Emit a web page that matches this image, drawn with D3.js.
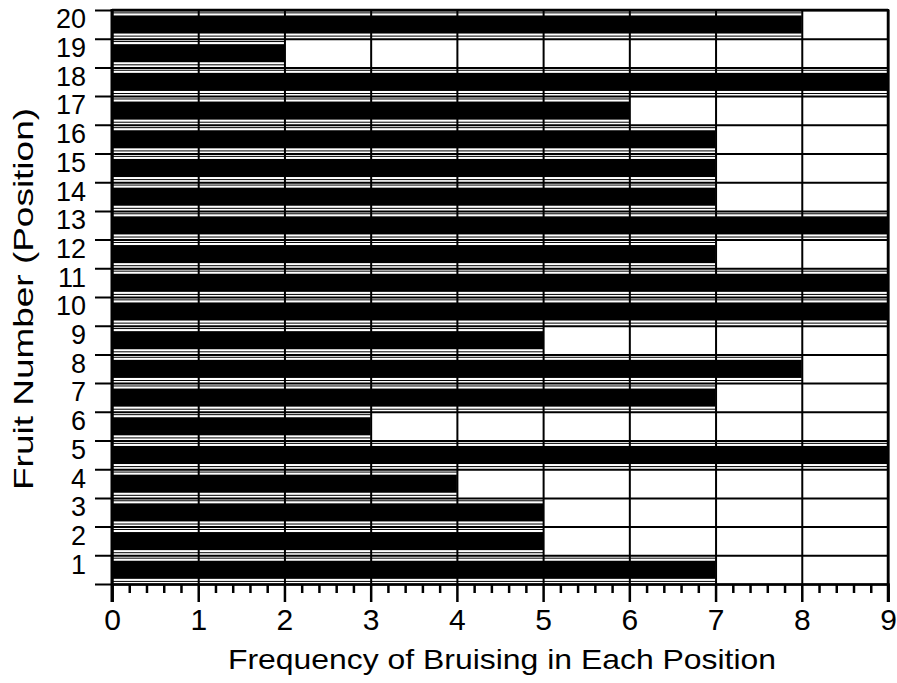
<!DOCTYPE html>
<html>
<head>
<meta charset="utf-8">
<script src="https://cdn.jsdelivr.net/npm/d3@7"></script>
<style>
  html, body { margin: 0; padding: 0; background: #fff; }
  svg { display: block; }
  text { font-family: "Liberation Sans", Arial, Helvetica, sans-serif; fill: #000; }
</style>
</head>
<body>
<svg id="chart" width="897" height="683"></svg>
<script>
// Data
const fruitNumbers = [1, 2, 3, 4, 5, 6, 7, 8, 9, 10, 11, 12, 13, 14, 15, 16, 17, 18, 19, 20];
const bruisingFrequency = [7, 5, 5, 4, 9, 3, 7, 8, 5, 9, 9, 7, 9, 7, 7, 7, 6, 9, 2, 8];
const xTickValues = [0, 1, 2, 3, 4, 5, 6, 7, 8, 9];
const xAxisTitle = "Frequency of Bruising in Each Position";
const yAxisTitle = "Fruit Number (Position)";

(function () {
const svg = d3.select("#chart");
const pL = 112, pR = 888, pT = 10, pB = 584;

const x = d3.scaleLinear().domain([0, 9]).range([pL, pR]);
const y = d3.scaleBand().domain(fruitNumbers.slice().reverse()).range([pT, pB]).paddingInner(0).paddingOuter(0);
const yEdge = d3.scaleLinear().domain([0, 20]).range([pB, pT]);
const bw = y.bandwidth();

// bars: thin outline lines + black fill
const barG = svg.append("g");
const rows = fruitNumbers.map((f, i) => ({ f, v: bruisingFrequency[i] }));
barG.selectAll("rect.fill").data(rows).join("rect")
  .attr("x", x(0))
  .attr("y", d => y(d.f) + bw * 0.19)
  .attr("width", d => x(d.v) - x(0))
  .attr("height", bw * 0.63)
  .attr("fill", "#000");
barG.selectAll("line.top").data(rows).join("line")
  .attr("x1", x(0)).attr("x2", d => x(d.v))
  .attr("y1", d => y(d.f) + bw * 0.1).attr("y2", d => y(d.f) + bw * 0.1)
  .attr("stroke", "#000").attr("stroke-width", 1);
barG.selectAll("line.bot").data(rows).join("line")
  .attr("x1", x(0)).attr("x2", d => x(d.v))
  .attr("y1", d => y(d.f) + bw * 0.91).attr("y2", d => y(d.f) + bw * 0.91)
  .attr("stroke", "#000").attr("stroke-width", 1);

// horizontal gridlines + left ticks
svg.append("g")
  .attr("transform", `translate(${pL},0)`)
  .call(d3.axisLeft(yEdge).tickValues(d3.range(0, 21)).tickSize(0).tickFormat(""))
  .call(g => g.select(".domain").remove())
  .call(g => g.selectAll(".tick line")
    .attr("x1", -17).attr("x2", pR - pL)
    .attr("stroke", "#000").attr("stroke-width", 2));

// vertical gridlines
svg.append("g")
  .attr("transform", `translate(0,${pB})`)
  .call(d3.axisBottom(x).tickValues(xTickValues).tickSize(-(pB - pT)).tickFormat(""))
  .call(g => g.select(".domain").remove())
  .call(g => g.selectAll(".tick line").attr("stroke", "#000").attr("stroke-width", 2));

// frame
svg.append("line").attr("x1", pL).attr("x2", pL).attr("y1", pT - 1).attr("y2", pB + 18)
  .attr("stroke", "#000").attr("stroke-width", 3);
svg.append("line").attr("x1", pR).attr("x2", pR).attr("y1", pT - 1).attr("y2", pB + 18)
  .attr("stroke", "#000").attr("stroke-width", 2.5);
svg.append("line").attr("x1", pL).attr("x2", pR).attr("y1", pT).attr("y2", pT)
  .attr("stroke", "#000").attr("stroke-width", 2.5);

// x axis major
const xAxisG = svg.append("g")
  .attr("transform", `translate(0,${pB})`)
  .call(d3.axisBottom(x).tickValues(xTickValues).tickSize(18).tickPadding(7).tickFormat(d3.format("d")));
xAxisG.select(".domain").attr("stroke", "#000").attr("stroke-width", 2.5);
xAxisG.selectAll(".tick line").attr("stroke", "#000").attr("stroke-width", 2.5);
xAxisG.selectAll(".tick text").attr("font-size", 30).attr("font-family", "Liberation Sans, Arial, sans-serif").attr("fill", "#000");

// x axis minor
const minorVals = d3.range(0, 45).map(i => i / 5).filter(v => Math.abs(v - Math.round(v)) > 1e-6);
svg.append("g")
  .attr("transform", `translate(0,${pB})`)
  .call(d3.axisBottom(x).tickValues(minorVals).tickSize(9).tickFormat(""))
  .call(g => g.select(".domain").remove())
  .call(g => g.selectAll(".tick line").attr("stroke", "#000").attr("stroke-width", 2.5));

// y labels
svg.append("g").selectAll("text").data(fruitNumbers).join("text")
  .attr("x", 86)
  .attr("y", d => y(d) + bw / 2 - 5)
  .attr("text-anchor", "end")
  .attr("dominant-baseline", "central")
  .attr("font-size", 27)
  .text(d => d);

// titles
svg.append("text")
  .attr("x", (pL + pR) / 2 + 2)
  .attr("y", 669)
  .attr("text-anchor", "middle")
  .attr("font-size", 28)
  .attr("textLength", 548)
  .attr("lengthAdjust", "spacingAndGlyphs")
  .text(xAxisTitle);
svg.append("text")
  .attr("transform", "translate(33,299) rotate(-90)")
  .attr("text-anchor", "middle")
  .attr("font-size", 28)
  .attr("textLength", 382)
  .attr("lengthAdjust", "spacingAndGlyphs")
  .text(yAxisTitle);
})();
</script>
</body>
</html>
